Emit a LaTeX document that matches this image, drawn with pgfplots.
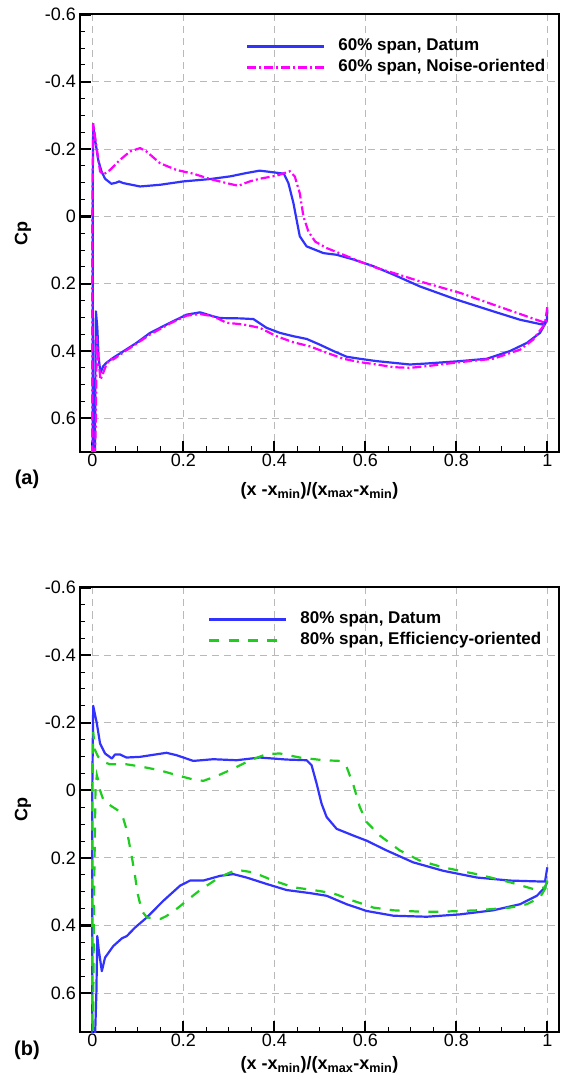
\documentclass[border=0pt]{standalone}
\usepackage{fontspec}
\setmainfont{Liberation Sans}
\usepackage{pgfplots}
\pgfplotsset{compat=1.18}
\definecolor{dblue}{RGB}{50,50,255}
\definecolor{nmag}{RGB}{255,0,255}
\definecolor{egreen}{RGB}{30,205,30}
\pgfplotsset{
 myax/.style={
  scale only axis, width=479pt,
  xmin=-0.027, xmax=1.0257,
  y dir=reverse, ymin=-0.6,
  xtick={0,0.2,0.4,0.6,0.8,1}, xticklabels={0,0.2,0.4,0.6,0.8,1},
  ytick={-0.6,-0.4,-0.2,0,0.2,0.4,0.6}, yticklabels={-0.6,-0.4,-0.2,0,0.2,0.4,0.6},
  minor x tick num=3, minor y tick num=3,
  tick pos=left, tick align=inside,
  major tick length=11pt, minor tick length=5.5pt,
  every tick/.style={black},
  major tick style={line width=2.2pt,black},
  minor tick style={line width=1pt,black},
  axis line style={line width=2pt,black},
  grid=major,
  major grid style={dash pattern=on 7pt off 5pt, gray!55, line width=0.9pt},
  ticklabel style={font=\fontsize{18}{18}\selectfont},
  xticklabel style={inner sep=2pt},
  yticklabel style={inner sep=4pt},
  ylabel={\textbf{Cp}},
  ylabel style={at={(axis description cs:-0.119,0.5)}, anchor=center, font=\fontsize{18}{20}\selectfont},
  xlabel={\textbf{(x -x\textsubscript{min})/(x\textsubscript{max}-x\textsubscript{min})}},
  xlabel style={anchor=center, font=\fontsize{18}{20}\selectfont},
  legend cell align=left,
  legend image code/.code={\draw[##1] (0pt,0pt) -- (77pt,0pt);},
  legend style={draw=none, fill=none, inner sep=0pt, column sep=13pt, row sep=5.5pt,
    font=\fontsize{17}{17}\selectfont\bfseries,
    nodes={inner sep=0pt, text height=12pt, text depth=3.5pt}},
 },
 datum/.style={dblue, line width=2.2pt, line join=round},
 noise/.style={nmag, line width=2.2pt, dash pattern=on 9pt off 3pt on 2pt off 3pt},
 effic/.style={egreen, line width=2.2pt, dash pattern=on 10pt off 9.3pt},
}
\begin{document}
\begin{tikzpicture}[x=1pt,y=1pt]
\useasboundingbox (0,0) rectangle (561,1081);
% ---------------- (a) ----------------
\begin{axis}[myax, at={(80pt,1066.5pt)}, anchor=north west, height=437.5pt, ymax=0.7,
  xlabel style={at={(axis description cs:0.5,-0.088)}},
  legend style={at={(axis description cs:0.3466,0.945)}, anchor=north west}]
\addplot[datum] coordinates {
(1.0,0.277) (0.999,0.31) (0.988,0.321) (0.94,0.307) (0.881,0.282) (0.80,0.247) (0.72,0.208)
(0.662,0.173) (0.618,0.148) (0.574,0.128) (0.537,0.114) (0.508,0.109) (0.471,0.089) (0.456,0.059)
(0.449,0.01) (0.442,-0.04) (0.431,-0.099) (0.421,-0.127) (0.398,-0.131) (0.368,-0.136) (0.339,-0.129)
(0.303,-0.119) (0.259,-0.111) (0.2,-0.104) (0.149,-0.094) (0.105,-0.089) (0.068,-0.099) (0.059,-0.104)
(0.052,-0.100) (0.042,-0.097) (0.028,-0.112) (0.020,-0.135) (0.013,-0.168) (0.006,-0.23) (0.002,-0.272)
(0.001,-0.1) (0.001,0.3) (0.001,1.0) (0.005,1.0) (0.006,0.7) (0.007,0.4) (0.008,0.282) (0.011,0.33)
(0.014,0.42) (0.018,0.465) (0.024,0.445) (0.031,0.435) (0.046,0.42) (0.075,0.395) (0.097,0.376)
(0.127,0.346) (0.171,0.316) (0.207,0.292) (0.237,0.285) (0.266,0.297) (0.281,0.302) (0.325,0.303)
(0.354,0.305) (0.383,0.331) (0.412,0.346) (0.442,0.356) (0.471,0.364) (0.5,0.381) (0.53,0.4)
(0.559,0.417) (0.588,0.423) (0.625,0.43) (0.662,0.435) (0.698,0.44) (0.735,0.437) (0.808,0.43)
(0.867,0.423) (0.918,0.4) (0.955,0.376) (0.984,0.346) (0.999,0.31)
};
\addlegendentry{60\% span, Datum}
\addplot[noise] coordinates {
(1.0,0.27) (0.995,0.316) (0.955,0.297) (0.881,0.262) (0.808,0.227) (0.72,0.193) (0.662,0.168)
(0.625,0.153) (0.588,0.134) (0.552,0.114) (0.515,0.094) (0.49,0.075) (0.475,0.045) (0.464,0.0)
(0.456,-0.069) (0.445,-0.119) (0.434,-0.134) (0.405,-0.121) (0.368,-0.112) (0.346,-0.104)
(0.321,-0.091) (0.295,-0.099) (0.259,-0.111) (0.222,-0.127) (0.185,-0.138) (0.149,-0.158)
(0.119,-0.193) (0.105,-0.203) (0.083,-0.193) (0.061,-0.168) (0.039,-0.138) (0.024,-0.124)
(0.017,-0.134) (0.010,-0.2) (0.002,-0.277) (0.0,0.0) (0.0,1.0) (0.008,0.6) (0.0097,0.356)
(0.013,0.42) (0.018,0.485) (0.024,0.465) (0.031,0.44) (0.039,0.424) (0.046,0.425) (0.075,0.398)
(0.127,0.351) (0.171,0.318) (0.207,0.295) (0.237,0.29) (0.266,0.297) (0.295,0.316) (0.332,0.321)
(0.368,0.331) (0.405,0.356) (0.442,0.374) (0.478,0.386) (0.515,0.405) (0.552,0.423) (0.588,0.433)
(0.625,0.44) (0.662,0.448) (0.698,0.45) (0.735,0.445) (0.808,0.433) (0.881,0.423) (0.94,0.396)
(0.969,0.366) (0.991,0.326) (1.0,0.31)
};
\addlegendentry{60\% span, Noise-oriented}
\end{axis}
\node[font=\fontsize{20}{20}\selectfont\bfseries] at (27,1081-479) {(a)};
% ---------------- (b) ----------------
\begin{axis}[myax, at={(80pt,493.5pt)}, anchor=north west, height=444.5pt, ymax=0.715,
  xlabel style={at={(axis description cs:0.5,-0.074)}},
  legend style={at={(axis description cs:0.2672,0.946)}, anchor=north west}]
\addplot[datum] coordinates {
(1.0,0.228) (0.995,0.27) (0.991,0.27) (0.918,0.267) (0.845,0.258) (0.771,0.238) (0.705,0.213)
(0.647,0.178) (0.603,0.149) (0.574,0.134) (0.537,0.114) (0.515,0.079) (0.504,0.04) (0.493,-0.02)
(0.482,-0.074) (0.471,-0.089) (0.427,-0.091) (0.368,-0.097) (0.317,-0.089) (0.266,-0.092)
(0.222,-0.087) (0.185,-0.104) (0.163,-0.111) (0.105,-0.099) (0.075,-0.097) (0.061,-0.106)
(0.05,-0.106) (0.043,-0.094) (0.028,-0.109) (0.017,-0.139) (0.01,-0.198) (0.002,-0.25)
(0.0,0.0) (0.0,1.0) (0.009,0.6) (0.011,0.431) (0.014,0.47) (0.021,0.535) (0.028,0.495)
(0.046,0.461) (0.065,0.438) (0.076,0.431) (0.094,0.406) (0.12,0.376) (0.156,0.327) (0.193,0.282)
(0.215,0.267) (0.244,0.267) (0.281,0.253) (0.31,0.248) (0.339,0.258) (0.383,0.277) (0.427,0.295)
(0.478,0.304) (0.515,0.312) (0.559,0.337) (0.603,0.357) (0.662,0.371) (0.735,0.374) (0.808,0.367)
(0.881,0.355) (0.94,0.337) (0.977,0.312) (0.995,0.287) (1.0,0.27)
};
\addlegendentry{80\% span, Datum}
\addplot[effic] coordinates {
(1.0,0.267) (0.995,0.287) (0.969,0.292) (0.918,0.272) (0.845,0.248) (0.771,0.228) (0.72,0.208)
(0.676,0.178) (0.632,0.134) (0.603,0.094) (0.588,0.05) (0.574,-0.015) (0.559,-0.069) (0.544,-0.087)
(0.508,-0.089) (0.456,-0.097) (0.412,-0.109) (0.383,-0.107) (0.347,-0.089) (0.31,-0.064)
(0.273,-0.042) (0.244,-0.028) (0.222,-0.032) (0.185,-0.045) (0.149,-0.059) (0.112,-0.069)
(0.075,-0.077) (0.039,-0.077) (0.024,-0.084) (0.013,-0.099) (0.006,-0.119) (0.002,-0.173)
(0.0,0.0) (0.0,1.0) (0.004,0.3) (0.007,0.0) (0.01,-0.045) (0.013,-0.03) (0.017,0.0) (0.024,0.027)
(0.04,0.045) (0.057,0.06) (0.068,0.083) (0.076,0.119) (0.087,0.198) (0.094,0.253) (0.099,0.302)
(0.109,0.357) (0.12,0.376) (0.149,0.381) (0.163,0.372) (0.189,0.347) (0.207,0.327) (0.237,0.295)
(0.281,0.256) (0.317,0.235) (0.354,0.243) (0.398,0.267) (0.442,0.287) (0.486,0.295) (0.53,0.305)
(0.574,0.327) (0.618,0.347) (0.662,0.355) (0.72,0.359) (0.771,0.359) (0.845,0.355) (0.918,0.347)
(0.955,0.337) (0.984,0.317) (1.0,0.28)
};
\addlegendentry{80\% span, Efficiency-oriented}
\end{axis}
\node[font=\fontsize{20}{20}\selectfont\bfseries] at (27,1081-1050) {(b)};
\end{tikzpicture}
\end{document}
